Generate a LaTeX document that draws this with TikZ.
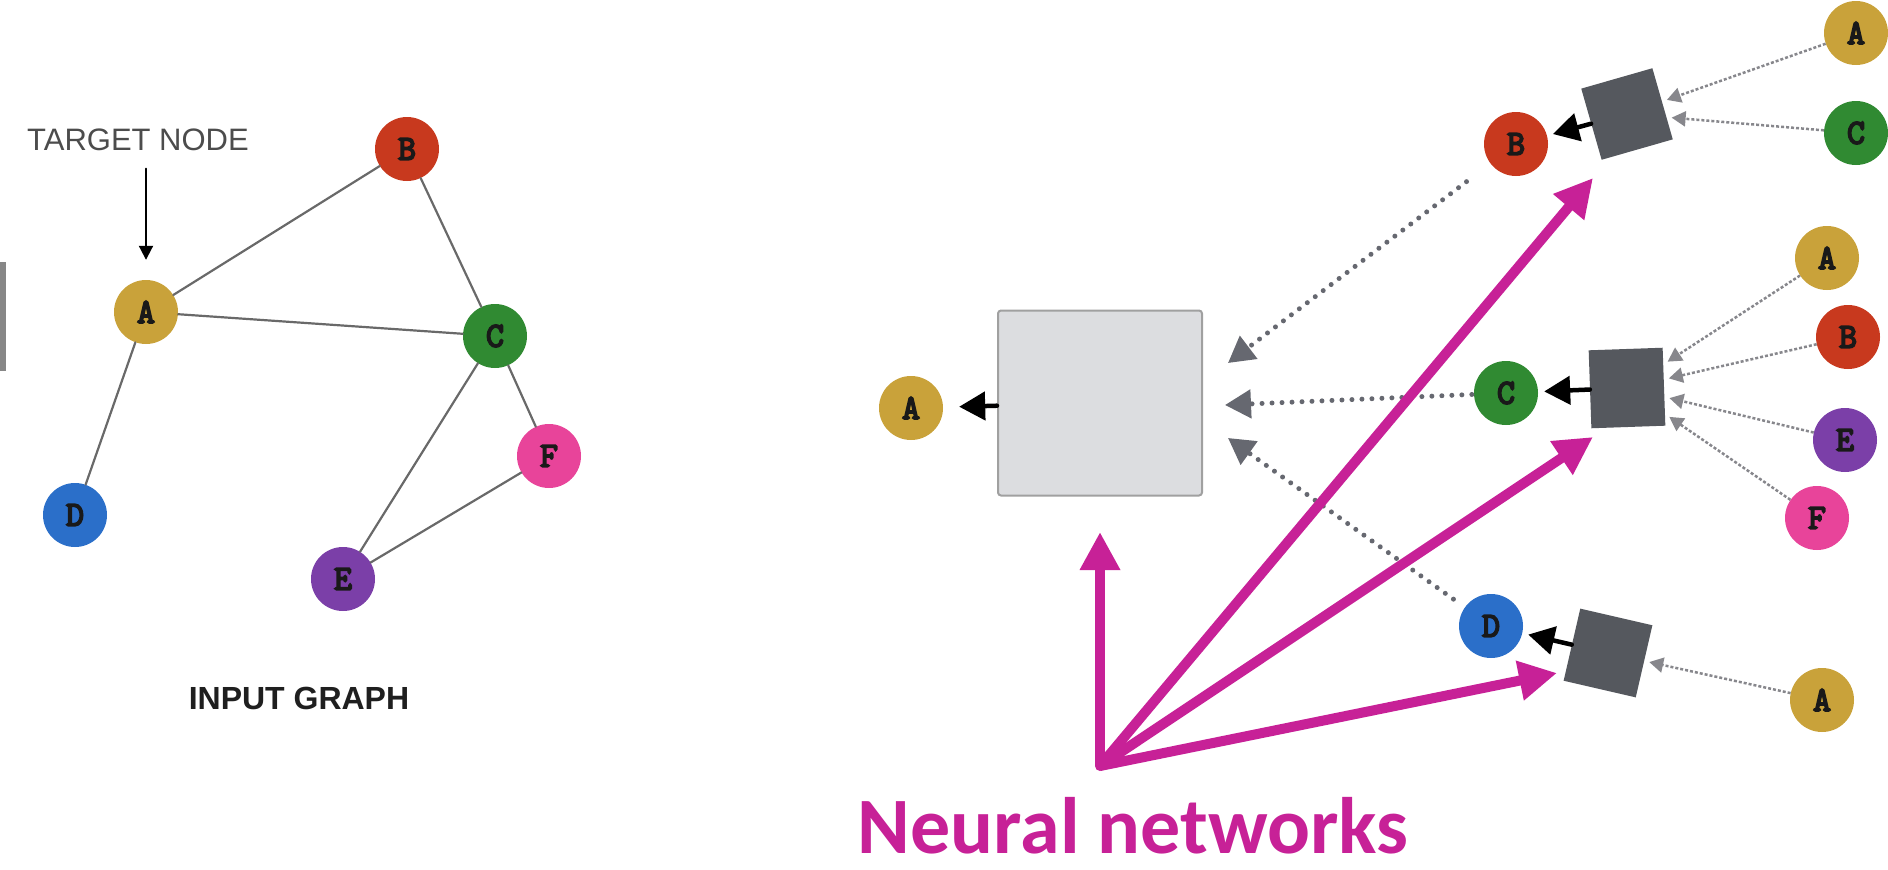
\documentclass[tikz,border=0pt]{standalone}
\usepackage{fontspec}
\setmainfont{Liberation Sans}
\newfontfamily\letterfont[FakeBold=5]{Latin Modern Mono}
\newfontfamily\nnfont{Carlito}
\usepackage{xcolor}
\usetikzlibrary{arrows.meta}

\definecolor{vA}{RGB}{201,162,58}
\definecolor{vB}{RGB}{200,57,30}
\definecolor{vC}{RGB}{48,138,50}
\definecolor{vD}{RGB}{43,111,201}
\definecolor{vE}{RGB}{123,63,168}
\definecolor{vF}{RGB}{232,68,154}
\definecolor{edgegray}{RGB}{105,105,105}
\definecolor{aggdark}{RGB}{85,88,94}
\definecolor{boxfill}{RGB}{220,221,224}
\definecolor{boxline}{RGB}{160,160,160}
\definecolor{passgray}{RGB}{102,104,112}
\definecolor{feedgray}{RGB}{135,135,140}
\definecolor{nnpink}{RGB}{199,33,151}

\begin{document}
\begin{tikzpicture}[x=1pt,y=-1pt,line cap=round,
  vert/.style={circle,minimum size=64pt,inner sep=0pt,text=black!90,
    font=\letterfont\fontsize{35}{35}\selectfont},
  link/.style={draw=edgegray,line width=2.2pt},
  agg/.style={fill=aggdark,minimum size=74pt,inner sep=0pt},
  emit/.style={-{Triangle[length=26pt,width=28pt]},line width=4.5pt,shorten >=6pt},
  feed/.style={draw=feedgray,line width=2.5pt,line cap=butt,dash pattern=on 3pt off 2pt,
    -{Triangle[length=14pt,width=15pt]},shorten >=5pt},
  pass/.style={draw=passgray,line width=5pt,dash pattern=on 0pt off 10pt,
    -{Triangle[length=26pt,width=28pt]}},
  nn/.style={draw=nnpink,line width=10pt,line cap=butt,
    -{Triangle[length=38pt,width=38pt]}}]
  \useasboundingbox (0,0) rectangle (1888,870);

  % Input graph on the left.
  \fill[edgegray!80] (0,262) rectangle (6,371);
  \foreach \name/\col/\x/\y in {a/vA/146/312,b/vB/407/149,c/vC/495/336,
    d/vD/75/515,e/vE/343/579,f/vF/549/456}
    \node[vert,fill=\col] (\name) at (\x,\y) {\MakeUppercase{\name}};
  \foreach \u/\v in {a/b,a/c,a/d,b/c,c/e,c/f,e/f}
    \draw[link] (\u) -- (\v);
  \node[text=black!70,font=\fontsize{31}{31}\selectfont] (tgt) at (138,140) {TARGET NODE};
  \draw[line width=2pt,-{Triangle[length=14pt,width=14pt]},shorten <=14pt,shorten >=20pt]
    (a.north |- tgt.south) -- (a.north);
  \node[font=\bfseries\fontsize{32}{32}\selectfont,text=black!88] (inp) at (299,698) {INPUT GRAPH};

  % Aggregation for the target node.
  \node[vert,fill=vA] (out) at (911,408) {A};
  \node[fill=boxfill,draw=boxline,line width=2pt,rounded corners=3pt,
    minimum width=204pt,minimum height=185pt] (box) at (1100,403) {};
  \draw[emit,shorten >=16pt] (box) -- (out);

  % Neighbours and their own aggregators.
  \node[vert,fill=vB] (bm) at (1516,144) {B};
  \node[vert,fill=vC] (cm) at (1506,393) {C};
  \node[vert,fill=vD] (dm) at (1491,626) {D};
  \node[agg,rotate=16] (sqb) at (1627,114) {};
  \node[agg,rotate=2,minimum height=78pt] (sqc) at (1627,388) {};
  \node[agg,rotate=-13] (sqd) at (1608,653) {};
  \draw[emit] (sqb) -- (bm);
  \draw[emit] (sqc) -- (cm);
  \draw[emit] (sqd) -- (dm);

  \node[vert,fill=vA] (ta) at (1856,33) {A};
  \node[vert,fill=vC] (tc) at (1856,133) {C};
  \node[vert,fill=vA] (ma) at (1827,258) {A};
  \node[vert,fill=vB] (mb) at (1848,337) {B};
  \node[vert,fill=vE] (me) at (1845,440) {E};
  \node[vert,fill=vF] (mf) at (1817,518) {F};
  \node[vert,fill=vA] (la) at (1822,700) {A};
  \foreach \src/\dst in {ta/sqb,tc/sqb,ma/sqc,mb/sqc,me/sqc,mf/sqc,la/sqd}
    \draw[feed] (\src) -- (\dst);

  % Messages passed into the big box.
  \coordinate (inb) at (1228,363);
  \coordinate (inc) at (1225,405);
  \coordinate (ind) at (1228,438);
  \draw[pass,shorten <=30pt] (bm) -- (inb);
  \draw[pass,shorten <=2pt] (cm) -- (inc);
  \draw[pass,shorten <=14pt] (dm) -- (ind);

  % Neural networks.
  \coordinate (hub) at (1100,766);
  \coordinate (nnup) at (1100,532);
  \coordinate (nnb) at (1593,178);
  \coordinate (nnc) at (1593,437);
  \coordinate (nnd) at (1557,673);
  \foreach \tip in {nnup,nnb,nnc,nnd}
    \draw[nn] (hub) -- (\tip);
  \fill[nnpink] (hub) circle (5);
  \node[text=nnpink,font=\nnfont\bfseries\fontsize{80}{80}\selectfont] (nnlabel) at (1133,826) {Neural networks};
\end{tikzpicture}
\end{document}
